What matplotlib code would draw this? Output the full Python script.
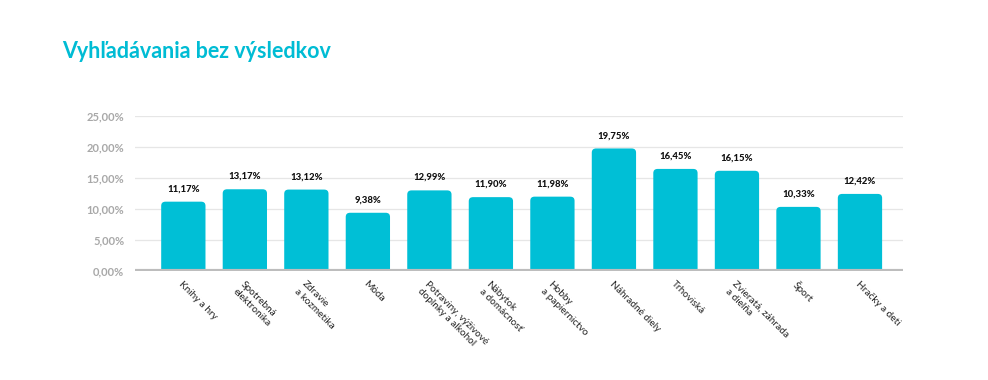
import matplotlib.pyplot as plt
from matplotlib.patches import FancyBboxPatch

plt.rcParams['font.family'] = ['Lato', 'DejaVu Sans']

categories = ['Knihy a hry', 'Spotrebná\nelektronika', 'Zdravie\na kozmetika', 'Móda',
              'Potraviny, výživové\ndoplnky a alkohol', 'Nábytok\na domácnosť',
              'Hobby\na papiernictvo', 'Náhradné diely', 'Trhoviská',
              'Zvieratá, záhrada\na dielňa', 'Šport', 'Hračky a deti']
values = [11.17, 13.17, 13.12, 9.38, 12.99, 11.90, 11.98, 19.75, 16.45, 16.15, 10.33, 12.42]
yticks = [0, 5, 10, 15, 20, 25]

fig = plt.figure(figsize=(9.88, 3.8), dpi=100)
ax = fig.add_axes([0.137, 0.287, 0.777, 0.408])

x = list(range(len(values)))
bars = ax.bar(x, values, width=0.72, color='#00BFD6', zorder=3)

# swap plain rectangles for ones with slightly rounded corners
for b in bars:
    bx, bw, bh = b.get_x(), b.get_width(), b.get_height()
    p = FancyBboxPatch((bx, -1), bw, bh + 1,
                       boxstyle='round,pad=0,rounding_size=0.07',
                       mutation_aspect=9.5, fc='#00BFD6', ec='none', zorder=3)
    ax.add_patch(p)
    b.set_visible(False)

for xi, v in zip(x, values):
    ax.annotate(f'{v:.2f}%'.replace('.', ','), (xi, v), xytext=(0, 6),
                textcoords='offset points', ha='center', va='bottom',
                fontsize=6.8, fontweight='black', color='#111111')

ax.set_xlim(-0.78, 11.7)
ax.set_ylim(0, 25)
ax.set_yticks(yticks)
ax.set_yticklabels([f'{t:.2f}%'.replace('.', ',') for t in yticks],
                   fontsize=8, fontweight='bold', color='#a8a8a8')
ax.yaxis.grid(True, color='#e6e6e6', linewidth=0.9, zorder=0)
ax.tick_params(axis='y', length=0, pad=8)
ax.tick_params(axis='x', length=0, pad=6)
for s in ax.spines.values():
    s.set_visible(False)
ax.axhline(0, color='#bdbdbd', linewidth=3, zorder=4)

ax.set_xticks(x)
ax.set_xticklabels(categories, rotation=-45, ha='left', va='top',
                   rotation_mode='anchor', fontsize=7.2, color='#222222')

fig.text(0.063, 0.865, 'Vyhľadávania bez výsledkov', fontsize=15.5, fontweight='bold',
         color='#00BCD4', ha='left', va='center')

fig.savefig('out.png', dpi=100)
